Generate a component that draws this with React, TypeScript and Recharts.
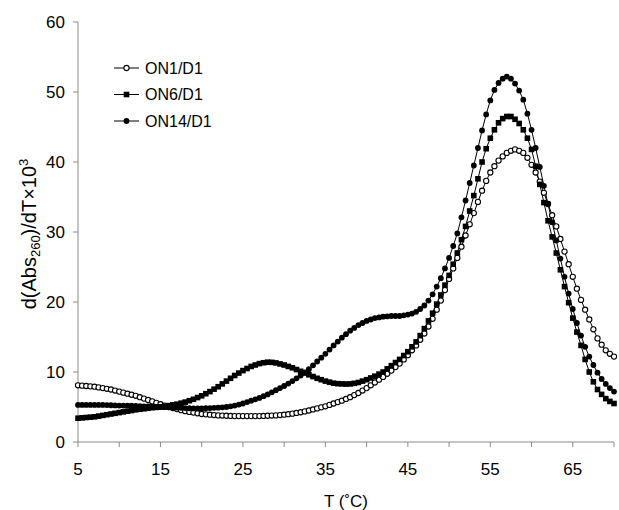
import React from 'react';
import { LineChart, Line, XAxis, YAxis, Label } from 'recharts';

// temperature grid, 0.5 °C steps from 5 to 70
const temps = Array.from({ length: 131 }, (_, i) => 5 + i * 0.5);

const on1 = [
  8.1, 8.05, 8.0, 7.95, 7.9, 7.8, 7.7, 7.6, 7.5, 7.35,
  7.2, 7.05, 6.9, 6.75, 6.6, 6.4, 6.2, 6.0, 5.8, 5.6,
  5.4, 5.2, 5.0, 4.85, 4.7, 4.55, 4.4, 4.3, 4.2, 4.1,
  4.0, 3.95, 3.9, 3.85, 3.8, 3.78, 3.75, 3.72, 3.7, 3.7,
  3.7, 3.7, 3.7, 3.7, 3.7, 3.72, 3.75, 3.78, 3.8, 3.85,
  3.9, 3.97, 4.05, 4.15, 4.25, 4.37, 4.5, 4.65, 4.8, 4.95,
  5.1, 5.3, 5.5, 5.7, 5.9, 6.15, 6.4, 6.7, 7.0, 7.35,
  7.7, 8.1, 8.5, 8.9, 9.3, 9.75, 10.2, 10.7, 11.2, 11.8,
  12.4, 13.1, 13.8, 14.6, 15.5, 16.5, 17.6, 18.9, 20.2, 21.7,
  23.3, 24.8, 26.3, 27.9, 29.5, 31.1, 32.7, 34.3, 35.9, 37.3,
  38.5, 39.4, 40.2, 40.8, 41.3, 41.6, 41.8, 41.6, 41.3, 40.6,
  39.6, 38.5, 37.2, 35.6, 34.0, 32.4, 30.8, 29.0, 27.2, 25.4,
  23.6, 21.9, 20.3, 18.9, 17.5, 16.1, 14.8, 13.9, 13.1, 12.6,
  12.2,
];

const on6 = [
  3.4, 3.45, 3.5, 3.55, 3.6, 3.7, 3.8, 3.9, 4.0, 4.1,
  4.2, 4.3, 4.4, 4.5, 4.6, 4.68, 4.75, 4.82, 4.9, 4.95,
  5.0, 5.1, 5.2, 5.3, 5.4, 5.55, 5.7, 5.9, 6.1, 6.35,
  6.6, 6.9, 7.2, 7.55, 7.9, 8.3, 8.7, 9.1, 9.5, 9.85,
  10.2, 10.5, 10.8, 11.0, 11.2, 11.32, 11.4, 11.38, 11.3, 11.15,
  11.0, 10.8, 10.6, 10.35, 10.1, 9.85, 9.6, 9.35, 9.1, 8.9,
  8.7, 8.55, 8.4, 8.33, 8.3, 8.28, 8.3, 8.38, 8.5, 8.7,
  8.9, 9.15, 9.4, 9.7, 10.0, 10.45, 10.9, 11.35, 11.8, 12.35,
  12.9, 13.6, 14.3, 15.2, 16.2, 17.3, 18.4, 19.7, 21.0, 22.4,
  23.8, 25.4, 27.0, 28.9, 30.8, 33.0, 35.2, 37.6, 40.0, 41.9,
  43.4, 44.6, 45.6, 46.2, 46.5, 46.5, 46.1, 45.5, 44.6, 43.4,
  41.8, 39.4, 36.8, 34.2, 31.6, 29.3, 27.0, 24.6, 22.2, 19.9,
  17.7, 15.7, 13.8, 11.8, 10.0, 8.6, 7.5, 6.8, 6.2, 5.8,
  5.5,
];

const on14 = [
  5.3, 5.3, 5.3, 5.3, 5.3, 5.3, 5.3, 5.28, 5.25, 5.22,
  5.2, 5.2, 5.2, 5.18, 5.15, 5.12, 5.1, 5.08, 5.05, 5.02,
  5.0, 4.98, 4.95, 4.92, 4.9, 4.88, 4.85, 4.82, 4.8, 4.8,
  4.8, 4.82, 4.85, 4.88, 4.9, 4.95, 5.0, 5.1, 5.2, 5.35,
  5.5, 5.7, 5.9, 6.1, 6.3, 6.55, 6.8, 7.1, 7.4, 7.7,
  8.0, 8.35, 8.7, 9.1, 9.5, 9.95, 10.4, 10.95, 11.5, 12.05,
  12.6, 13.2, 13.8, 14.35, 14.9, 15.4, 15.9, 16.3, 16.7, 17.0,
  17.3, 17.5, 17.7, 17.8, 17.9, 17.95, 18.0, 18.0, 18.0, 18.1,
  18.2, 18.35, 18.6, 19.0, 19.5, 20.2, 21.1, 22.2, 23.4, 24.8,
  26.3, 28.0, 29.8, 32.1, 34.5, 37.0, 39.5, 42.0, 44.5, 46.8,
  48.8, 50.3, 51.3, 51.9, 52.2, 51.9, 51.2, 50.2, 48.9, 46.9,
  44.6, 42.0, 39.3, 36.6, 34.0, 31.4, 28.8, 26.2, 23.6, 21.2,
  19.0, 17.0, 15.2, 13.6, 12.2, 11.0, 9.9, 9.0, 8.3, 7.7,
  7.2,
];

const seriesKeys = ['on1', 'on6', 'on14'];
const seriesNames = ['ON1/D1', 'ON6/D1', 'ON14/D1'];
const xTicks = [5, 10, 15, 20, 25, 30, 35, 40, 45, 50, 55, 60, 65, 70];
const yTicks = [0, 10, 20, 30, 40, 50, 60];

const data = temps.map((t, i) => ({ t, on1: on1[i], on6: on6[i], on14: on14[i] }));

const FONT = '"Liberation Sans", Arial, Helvetica, sans-serif';
const AXIS = '#8c8c8c';

const marker = (key: string, cx: number, cy: number, k: string | number) => {
  if (key === 'on1')
    return <circle key={k} cx={cx} cy={cy} r={2.6} fill="#fff" stroke="#000" strokeWidth={1.1} />;
  if (key === 'on6')
    return <rect key={k} x={cx - 2.8} y={cy - 2.8} width={5.6} height={5.6} fill="#000" />;
  return <circle key={k} cx={cx} cy={cy} r={2.9} fill="#000" />;
};

const dotFor = (key: string) => (p: any) => marker(key, p.cx, p.cy, `${key}-${p.index}`);

// legend drawn as an overlay so it doesn't eat into the plot area
const LegendBox = () => (
  <svg
    width={120}
    height={80}
    style={{ position: 'absolute', left: 112, top: 55, display: 'block' }}
  >
    {seriesKeys.map((key, i) => {
      const y = 13 + i * 26.5;
      return (
        <g key={key}>
          <line x1={2} x2={27} y1={y} y2={y} stroke="#000" strokeWidth={1} />
          {marker(key, 14.5, y, 'm')}
          <text x={33} y={y + 5.7} fontSize={16} fontFamily={FONT} fill="#000">
            {seriesNames[i]}
          </text>
        </g>
      );
    })}
  </svg>
);

export default function App() {
  return (
    <div style={{ position: 'absolute', left: 0, top: 0, width: 619, height: 510, background: '#fff' }}>
      <LineChart
        width={619}
        height={510}
        data={data}
        margin={{ top: 22, right: 5, left: 18, bottom: 8 }}
      >
        <XAxis
          dataKey="t"
          type="number"
          domain={[5, 70]}
          ticks={xTicks}
          interval={0}
          tickFormatter={(v: number) => (v % 10 === 5 ? String(v) : '')}
          stroke={AXIS}
          tickSize={5}
          tickMargin={16}
          height={60}
          tick={{ fill: '#000', fontSize: 17, fontFamily: FONT }}
        >
          <Label
            content={() => (
              <text x={346} y={507} textAnchor="middle" fontSize={17} fontFamily={FONT} fill="#000">
                T (˚C)
              </text>
            )}
          />
        </XAxis>
        <YAxis
          type="number"
          domain={[0, 60]}
          ticks={yTicks}
          interval={0}
          stroke={AXIS}
          tickSize={5}
          tickMargin={8}
          width={60}
          tick={{ fill: '#000', fontSize: 17, fontFamily: FONT }}
        >
          <Label
            content={() => (
              <text
                transform="translate(36,234) rotate(-90)"
                textAnchor="middle"
                fontSize={20}
                fontFamily={FONT}
                fill="#000"
              >
                d(Abs
                <tspan fontSize={13} dy={4}>260</tspan>
                <tspan dy={-4}>)/dT×10</tspan>
                <tspan fontSize={13} dy={-8}>3</tspan>
              </text>
            )}
          />
        </YAxis>
        {seriesKeys.map((key, i) => (
          <Line
            key={key}
            name={seriesNames[i]}
            dataKey={key}
            stroke="#000"
            strokeWidth={1}
            dot={dotFor(key)}
            isAnimationActive={false}
          />
        ))}
      </LineChart>
      <LegendBox />
    </div>
  );
}
